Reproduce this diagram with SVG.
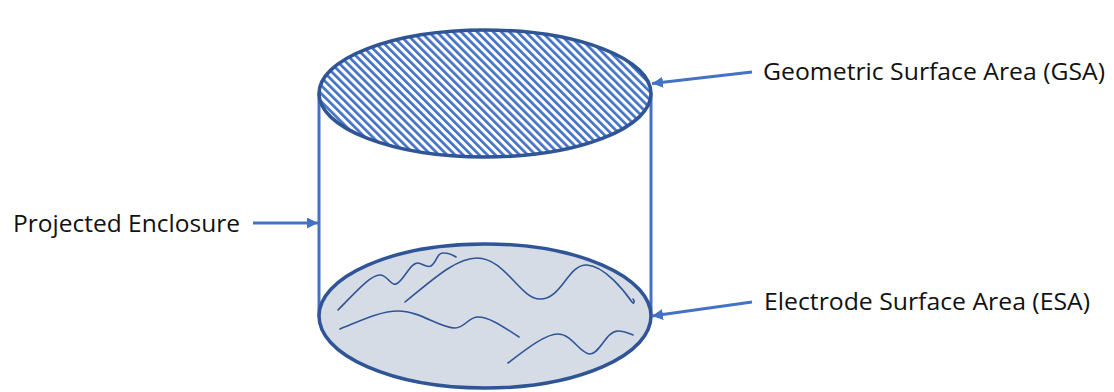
<svg xmlns="http://www.w3.org/2000/svg" width="1114" height="392" viewBox="0 0 1114 392">
<style>
.lbl{font-family:"Open Sans","Noto Sans",sans-serif;font-size:24px;fill:#111}
.side{stroke:#4472c4;stroke-width:3;fill:none}
.rim{stroke:#2f5597;stroke-width:3.5}
.wave{stroke:#2f5597;stroke-width:1.6;fill:none;stroke-linecap:round}
.conn{stroke:#4472c4;stroke-width:3;fill:none}
</style>
<defs>
<pattern id="hatch" width="5.7" height="10" patternUnits="userSpaceOnUse" patternTransform="rotate(-45)">
<rect width="5.7" height="10" fill="#ffffff"/>
<rect width="2.7" height="10" fill="#4472c4"/>
</pattern>
<marker id="arr" markerUnits="userSpaceOnUse" markerWidth="12" markerHeight="11" refX="11" refY="5.5" orient="auto">
<path d="M0,0 L11,5.5 L0,11 z" fill="#4472c4"/>
</marker>
</defs>
<rect width="1114" height="392" fill="#ffffff"/>
<g id="enclosure">
<line class="side" x1="319" y1="93" x2="319" y2="316"/>
<line class="side" x1="651" y1="93" x2="651" y2="316"/>
</g>
<g id="gsa-surface">
<ellipse class="rim" cx="485" cy="93.5" rx="166" ry="63.5" fill="url(#hatch)"/>
</g>
<g id="esa-surface">
<ellipse class="rim" cx="485" cy="316" rx="166" ry="72" fill="#d6dce5"/>
<path class="wave" d="M338,310 C355,293 370,275 380,275 C388,275 390,286 396,284 C404,281 410,262 418,263 C424,264 426,268 431,266 C437,262 437,252 444,253 C450,253 453,255 456,257"/>
<path class="wave" d="M405,302 C430,282 455,258 477,258 C505,258 520,299 540,299 C562,299 568,264 587,265 C605,266 625,292 632,302 C634,305 635,301 633,299"/>
<path class="wave" d="M340,329 C360,321 380,311 398,311 C420,311 440,328 455,328 C465,328 468,317 478,317 C490,317 505,328 519,337"/>
<path class="wave" d="M508,363 C525,350 545,334 558,334 C572,334 580,354 590,354 C600,354 606,331 618,331 C625,331 630,334 633,335"/>
</g>
<g id="connectors">
<line class="conn" x1="253" y1="223" x2="318" y2="223" marker-end="url(#arr)"/>
<line class="conn" x1="752" y1="72" x2="652" y2="83.5" marker-end="url(#arr)"/>
<line class="conn" x1="752" y1="302" x2="652" y2="316" marker-end="url(#arr)"/>
</g>
<g id="label-projected">
<text class="lbl" x="13" y="232" textLength="227" lengthAdjust="spacingAndGlyphs">Projected Enclosure</text>
</g>
<g id="label-gsa">
<text class="lbl" x="763" y="80" textLength="342" lengthAdjust="spacingAndGlyphs">Geometric Surface Area (GSA)</text>
</g>
<g id="label-esa">
<text class="lbl" x="764" y="310" textLength="326" lengthAdjust="spacingAndGlyphs">Electrode Surface Area (ESA)</text>
</g>
</svg>
